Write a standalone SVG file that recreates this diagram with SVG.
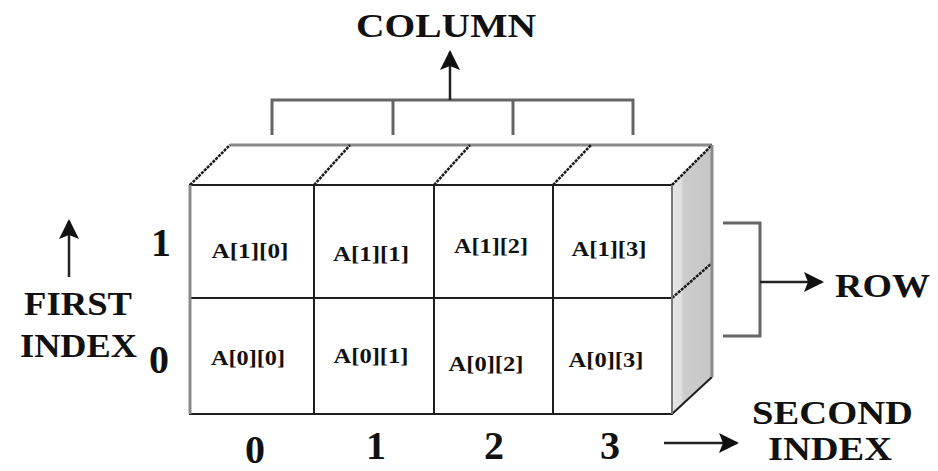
<svg xmlns="http://www.w3.org/2000/svg" width="938" height="471" viewBox="0 0 938 471">
  <style>
    .lbl { font-family: "Liberation Serif", "Times New Roman", serif; font-weight: bold; fill: #111; }
    .cell { font-size: 21px; }
    .big { font-size: 34px; }
    .digit { font-size: 40px; }
    .grid { stroke: #1e1e1e; stroke-width: 2; fill: none; }
    .edge { stroke: #8a8a8a; stroke-width: 3; fill: none; }
    .diag { stroke: #1a1a1a; stroke-width: 2.5; stroke-dasharray: 3 1; fill: none; }
    .brk { stroke: #666; stroke-width: 3; fill: none; }
    .arr { stroke: #222; stroke-width: 2.5; fill: none; }
  </style>
  <defs>
    <marker id="head" viewBox="0 0 10 10" refX="9" refY="5" markerWidth="24" markerHeight="20" markerUnits="userSpaceOnUse" orient="auto">
      <path d="M0,0 L10,5 L0,10 L2,5 z" fill="#111"/>
    </marker>
    <linearGradient id="side" x1="0" y1="0" x2="1" y2="0">
      <stop offset="0" stop-color="#e6e6e6"/>
      <stop offset="0.22" stop-color="#e0e0e0"/>
      <stop offset="0.3" stop-color="#cccccc"/>
      <stop offset="1" stop-color="#c6c6c6"/>
    </linearGradient>
  </defs>
  <rect width="938" height="471" fill="#fff"/>

  <!-- block: top face, side face, front grid -->
  <g id="block">
    <polygon points="190,185 230,145 712,145 672,185" fill="#fff"/>
    <polygon points="672,185 712,145 712,377 672,414" fill="url(#side)"/>
    <line class="edge" x1="230" y1="145" x2="712" y2="145"/>
    <line class="diag" x1="190" y1="185" x2="230" y2="145"/>
    <line class="diag" x1="314" y1="185" x2="350" y2="145"/>
    <line class="diag" x1="434" y1="185" x2="470" y2="145"/>
    <line class="diag" x1="553" y1="185" x2="591" y2="145"/>
    <line class="diag" x1="672" y1="185" x2="712" y2="145"/>
    <line class="diag" x1="672" y1="298" x2="712" y2="263"/>
    <line class="grid" x1="672" y1="414" x2="712" y2="377"/>
    <line class="edge" x1="712" y1="145" x2="712" y2="377"/>
  </g>

  <g id="cell-1-0"><rect class="grid" x="190" y="185" width="124" height="113"/><text class="lbl cell" x="250" y="258" text-anchor="middle" textLength="77" lengthAdjust="spacingAndGlyphs">A[1][0]</text></g>
  <g id="cell-1-1"><rect class="grid" x="314" y="185" width="120" height="113"/><text class="lbl cell" x="371" y="261" text-anchor="middle" textLength="76" lengthAdjust="spacingAndGlyphs">A[1][1]</text></g>
  <g id="cell-1-2"><rect class="grid" x="434" y="185" width="119" height="113"/><text class="lbl cell" x="491" y="253" text-anchor="middle" textLength="74" lengthAdjust="spacingAndGlyphs">A[1][2]</text></g>
  <g id="cell-1-3"><rect class="grid" x="553" y="185" width="119" height="113"/><text class="lbl cell" x="609" y="256" text-anchor="middle" textLength="75" lengthAdjust="spacingAndGlyphs">A[1][3]</text></g>
  <g id="cell-0-0"><rect class="grid" x="190" y="298" width="124" height="116"/><text class="lbl cell" x="248" y="365" text-anchor="middle" textLength="74" lengthAdjust="spacingAndGlyphs">A[0][0]</text></g>
  <g id="cell-0-1"><rect class="grid" x="314" y="298" width="120" height="116"/><text class="lbl cell" x="371" y="363" text-anchor="middle" textLength="75" lengthAdjust="spacingAndGlyphs">A[0][1]</text></g>
  <g id="cell-0-2"><rect class="grid" x="434" y="298" width="119" height="116"/><text class="lbl cell" x="486" y="371" text-anchor="middle" textLength="75" lengthAdjust="spacingAndGlyphs">A[0][2]</text></g>
  <g id="cell-0-3"><rect class="grid" x="553" y="298" width="119" height="116"/><text class="lbl cell" x="606" y="367" text-anchor="middle" textLength="75" lengthAdjust="spacingAndGlyphs">A[0][3]</text></g>
  <line class="edge" x1="190" y1="185" x2="190" y2="414"/>
  <line x1="672" y1="185" x2="672" y2="414" stroke="#777" stroke-width="2"/>

  <!-- labels -->
  <g id="column-label"><text class="lbl big" x="446" y="37" text-anchor="middle" textLength="180" lengthAdjust="spacingAndGlyphs">COLUMN</text></g>
  <g id="row-label"><text class="lbl big" x="835" y="297" textLength="95" lengthAdjust="spacingAndGlyphs">ROW</text></g>
  <g id="first-index"><text class="lbl big" x="24" y="315" textLength="108" lengthAdjust="spacingAndGlyphs">FIRST</text><text class="lbl big" x="20" y="357" textLength="117" lengthAdjust="spacingAndGlyphs">INDEX</text></g>
  <g id="second-index"><text class="lbl big" x="752" y="424" textLength="161" lengthAdjust="spacingAndGlyphs">SECOND</text><text class="lbl big" x="768" y="460" textLength="124" lengthAdjust="spacingAndGlyphs">INDEX</text></g>
  <g id="row-numbers"><text class="lbl digit" x="161" y="256" text-anchor="middle">1</text><text class="lbl digit" x="159" y="373" text-anchor="middle">0</text></g>
  <g id="col-numbers">
    <text class="lbl digit" x="255" y="463" text-anchor="middle">0</text>
    <text class="lbl digit" x="376" y="459" text-anchor="middle">1</text>
    <text class="lbl digit" x="494" y="459" text-anchor="middle">2</text>
    <text class="lbl digit" x="610" y="459" text-anchor="middle">3</text>
  </g>

  <!-- connectors -->
  <g id="connectors">
    <path class="brk" d="M272,135 V100 H633 V135 M393,100 V135 M513,100 V135"/>
    <line class="arr" x1="450" y1="100" x2="450" y2="52" marker-end="url(#head)"/>
    <path class="brk" d="M723,223 H760 V336 H723"/>
    <line class="arr" x1="760" y1="282" x2="822" y2="282" marker-end="url(#head)"/>
    <line class="arr" x1="69" y1="277" x2="69" y2="221" marker-end="url(#head)"/>
    <line class="arr" x1="664" y1="443" x2="737" y2="443" marker-end="url(#head)"/>
  </g>
</svg>
